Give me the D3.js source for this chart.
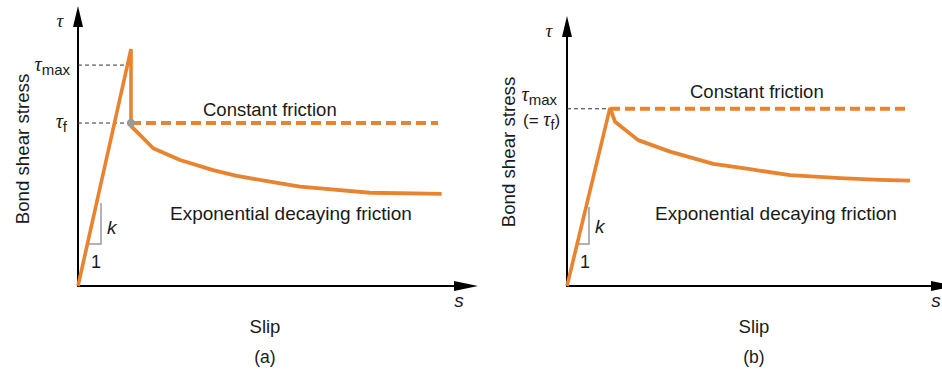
<!DOCTYPE html>
<html>
<head>
<meta charset="utf-8">
<script src="https://cdn.jsdelivr.net/npm/d3@7/dist/d3.min.js"></script>
<style>
  html, body { margin: 0; padding: 0; background: #fff; }
  svg { display: block; }
  text { font-family: "Liberation Sans", Arial, Helvetica, sans-serif; fill: #1a1a1a; }
  .tau { font-family: "Liberation Serif", "Times New Roman", serif; font-style: italic; }
  .ital { font-style: italic; }
</style>
</head>
<body>
<svg id="chart" width="942" height="371"></svg>
<script>
// ---------------- DATA (abstract units: slip 0..100, stress 0..100) ----------------
const panelLabels = ["(a)", "(b)"];
const xAxisTitle = "Slip";
const yAxisTitle = "Bond shear stress";
const constantLabel = "Constant friction";
const decayLabel = "Exponential decaying friction";

// Panel (a): linear rise to peak, sudden drop to tau_f
const riseA = [[0, 0], [13.25, 84.6]];
const dropA = [[13.25, 84.6], [13.25, 58.2]];
const tauMaxA = 78.9;
const tauFA = 58.2;
const constantA = [[13.25, 58.2], [90, 58.2]];
const decayA = [[13.25, 58.2], [13.4, 56.9], [15.1, 54.5], [18.8, 49.2], [25.5, 45.0],
                [33.75, 41.4], [39.7, 39.3], [48, 37.25], [55.5, 35.5], [60.5, 34.9],
                [73, 33.3], [90.9, 32.9]];
const slopeA = { x: 5.75, yTop: 29.6, yBottom: 15, xLine: 2.35 };

// Panel (b): linear rise to peak = tau_f
const riseB = [[0, 0], [10.75, 63.6]];
const tauMaxB = 63.3;
const constantB = [[10.75, 63.3], [85, 63.3]];
const decayB = [[10.75, 63.6], [12, 58.7], [17.8, 52.1], [25.75, 48.0], [36.6, 43.6],
                [45.75, 41.7], [55.75, 39.6], [68.25, 38.5], [78.25, 37.9], [85.75, 37.6]];
const slopeB = { x: 5.5, yTop: 28.2, yBottom: 15, xLine: 2.52 };

// ---------------- DRAWING ----------------
const orange = "#E8832F";
const svg = d3.select("#chart");

function arrowHead(g, tip, dir, len, halfW) {
  let pts;
  if (dir === "up") pts = [[tip[0], tip[1]], [tip[0] - halfW, tip[1] + len], [tip[0] + halfW, tip[1] + len]];
  else pts = [[tip[0], tip[1]], [tip[0] - len, tip[1] - halfW], [tip[0] - len, tip[1] + halfW]];
  g.append("path").attr("d", "M" + pts.map(p => p.join(",")).join("L") + "Z").attr("fill", "#000");
}

function panel(cfg) {
  const g = svg.append("g");
  const x = d3.scaleLinear().domain([0, 100]).range([cfg.ox, cfg.ox + 400]);
  const y = d3.scaleLinear().domain([0, 100]).range([cfg.oy, cfg.oy - 280]);
  const line = d3.line().x(d => x(d[0])).y(d => y(d[1]));

  // axes
  g.append("line").attr("x1", x(0)).attr("x2", x(0)).attr("y1", y(0) + 1).attr("y2", cfg.yTip + 10)
    .attr("stroke", "#000").attr("stroke-width", 2);
  arrowHead(g, [x(0), cfg.yTip], "up", 21, 5);
  g.append("line").attr("x1", x(0) - 1).attr("x2", cfg.xTip - 10).attr("y1", y(0)).attr("y2", y(0))
    .attr("stroke", "#000").attr("stroke-width", 2);
  arrowHead(g, [cfg.xTip, y(0)], "right", 24, 5);

  // axis symbols
  g.append("text").attr("class", "tau").attr("x", x(0) - 18).attr("y", cfg.yTip + 21)
    .attr("text-anchor", "middle").attr("font-size", 19).text("τ");
  g.append("text").attr("class", "ital").attr("x", cfg.xTip - 19).attr("y", y(0) + 21)
    .attr("text-anchor", "middle").attr("font-size", 19).text("s");

  // titles
  g.append("text").attr("transform", `translate(${cfg.titleX},${cfg.titleY}) rotate(-90)`)
    .attr("text-anchor", "middle").attr("font-size", 18.7).text(yAxisTitle);
  g.append("text").attr("x", cfg.cx).attr("y", 333).attr("text-anchor", "middle")
    .attr("font-size", 18.5).text(xAxisTitle);
  g.append("text").attr("x", cfg.cx).attr("y", 363).attr("text-anchor", "middle")
    .attr("font-size", 17.5).text(cfg.label);

  return { g, x, y, line };
}

// ---------- Panel (a) ----------
{
  const P = panel({ ox: 78, oy: 286, yTip: 6, xTip: 478, titleX: 29, titleY: 149, cx: 265, label: panelLabels[0] });
  const { g, x, y, line } = P;

  // dashed reference lines
  g.append("line").attr("x1", x(0)).attr("x2", x(riseA[1][0])).attr("y1", y(tauMaxA)).attr("y2", y(tauMaxA))
    .attr("stroke", "#333").attr("stroke-width", 1).attr("stroke-dasharray", "4,3");
  g.append("line").attr("x1", x(0)).attr("x2", x(constantA[0][0])).attr("y1", y(tauFA)).attr("y2", y(tauFA))
    .attr("stroke", "#333").attr("stroke-width", 1).attr("stroke-dasharray", "4,3");

  // slope triangle
  g.append("path").attr("d", `M${x(slopeA.x)},${y(slopeA.yTop)}L${x(slopeA.x)},${y(slopeA.yBottom)}L${x(slopeA.xLine)},${y(slopeA.yBottom)}`)
    .attr("fill", "none").attr("stroke", "#999").attr("stroke-width", 1.5);
  g.append("text").attr("class", "ital").attr("x", x(slopeA.x) + 6).attr("y", 234).attr("font-size", 19).text("k");
  g.append("text").attr("x", x(slopeA.x) - 10).attr("y", 268).attr("font-size", 18).text("1");

  // constant friction (dashed)
  g.append("path").attr("d", line(constantA)).attr("fill", "none").attr("stroke", orange)
    .attr("stroke-width", 4).attr("stroke-dasharray", "10,5");
  // decay
  g.append("path").attr("d", line(decayA)).attr("fill", "none").attr("stroke", orange)
    .attr("stroke-width", 3.8).attr("stroke-linejoin", "round");
  // rise and drop
  g.append("path").attr("d", line(riseA.concat([dropA[1]]))).attr("fill", "none").attr("stroke", orange)
    .attr("stroke-width", 3.6).attr("stroke-linejoin", "miter");
  // gray dot
  g.append("circle").attr("cx", x(constantA[0][0])).attr("cy", y(tauFA)).attr("r", 4).attr("fill", "#9a9a9a");

  // tau labels
  const tm = g.append("text").attr("x", 70).attr("y", 71).attr("text-anchor", "end");
  tm.append("tspan").attr("class", "tau").attr("font-size", 20).text("τ");
  tm.append("tspan").attr("font-size", 15).attr("dy", 4).text("max");
  const tf = g.append("text").attr("x", 67).attr("y", 128).attr("text-anchor", "end");
  tf.append("tspan").attr("class", "tau").attr("font-size", 20).text("τ");
  tf.append("tspan").attr("font-size", 15).attr("dy", 4).text("f");

  g.append("text").attr("x", 203).attr("y", 116).attr("font-size", 18.5).text(constantLabel);
  g.append("text").attr("x", 170).attr("y", 220).attr("font-size", 19).text(decayLabel);
}

// ---------- Panel (b) ----------
{
  const P = panel({ ox: 567, oy: 286, yTip: 16, xTip: 955, titleX: 515, titleY: 152, cx: 754, label: panelLabels[1] });
  const { g, x, y, line } = P;

  g.append("line").attr("x1", x(0)).attr("x2", x(riseB[1][0])).attr("y1", y(tauMaxB)).attr("y2", y(tauMaxB))
    .attr("stroke", "#333").attr("stroke-width", 1).attr("stroke-dasharray", "4,3");

  g.append("path").attr("d", `M${x(slopeB.x)},${y(slopeB.yTop)}L${x(slopeB.x)},${y(slopeB.yBottom)}L${x(slopeB.xLine)},${y(slopeB.yBottom)}`)
    .attr("fill", "none").attr("stroke", "#999").attr("stroke-width", 1.5);
  g.append("text").attr("class", "ital").attr("x", x(slopeB.x) + 6).attr("y", 233).attr("font-size", 19).text("k");
  g.append("text").attr("x", x(slopeB.x) - 9).attr("y", 268).attr("font-size", 18).text("1");

  g.append("path").attr("d", line(constantB)).attr("fill", "none").attr("stroke", orange)
    .attr("stroke-width", 4).attr("stroke-dasharray", "10,5");
  g.append("path").attr("d", line(decayB)).attr("fill", "none").attr("stroke", orange)
    .attr("stroke-width", 3.8).attr("stroke-linejoin", "round");
  g.append("path").attr("d", line(riseB)).attr("fill", "none").attr("stroke", orange)
    .attr("stroke-width", 3.6);

  const tm = g.append("text").attr("x", 557).attr("y", 101).attr("text-anchor", "end");
  tm.append("tspan").attr("class", "tau").attr("font-size", 20).text("τ");
  tm.append("tspan").attr("font-size", 15).attr("dy", 4).text("max");
  const tf = g.append("text").attr("x", 523).attr("y", 126);
  tf.append("tspan").attr("font-size", 17).text("(= ");
  tf.append("tspan").attr("class", "tau").attr("font-size", 20).text("τ");
  tf.append("tspan").attr("font-size", 14).attr("dy", 4).text("f");
  tf.append("tspan").attr("font-size", 17).attr("dy", -4).text(")");

  g.append("text").attr("x", 690).attr("y", 98).attr("font-size", 18.5).text(constantLabel);
  g.append("text").attr("x", 655).attr("y", 220).attr("font-size", 19).text(decayLabel);
}
</script>
</body>
</html>
